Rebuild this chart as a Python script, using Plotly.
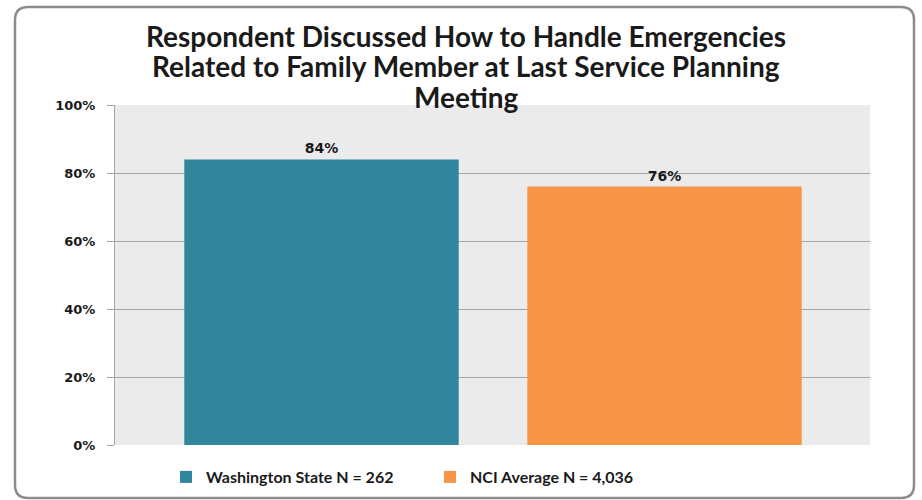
import plotly.graph_objects as go

groups = ["Washington State N = 262", "NCI Average N = 4,036"]
values = [84, 76]
colors = ["#31859C", "#F79646"]
tick_vals = [0, 20, 40, 60, 80, 100]
tick_text = ["0%", "20%", "40%", "60%", "80%", "100%"]
title_lines = [
    "Respondent Discussed How to Handle Emergencies",
    "Related to Family Member at Last Service Planning",
    "Meeting",
]

W, H = 922, 500
L, R, T, B = 115, 52, 105, 55
pw, ph = W - L - R, H - T - B


def px_x(v):
    return (v - L) / pw


def px_y(v):
    return (H - B - v) / ph


fig = go.Figure()

for i, (name, val, col) in enumerate(zip(groups, values, colors)):
    fig.add_trace(go.Bar(
        x=[i],
        y=[val],
        name=name,
        width=0.8,
        marker=dict(color=col, line=dict(width=0)),
        text=[f"{val}%"],
        textposition="outside",
        textfont=dict(family="DejaVu Sans", size=14, color="#1a1a1a", weight="bold"),
        cliponaxis=False,
    ))

# title lines as annotations so the line spacing can follow the original
for k, line in enumerate(title_lines):
    fig.add_annotation(
        text=line,
        xref="paper", yref="paper",
        x=px_x(466), y=px_y(36 + 30.5 * k),
        xanchor="center", yanchor="middle",
        showarrow=False,
        font=dict(family="Lato", size=28, color="#1a1a1a", weight="bold"),
    )

# rounded frame around the whole chart
x0, x1 = px_x(15), px_x(914)
y0, y1 = px_y(498), px_y(7)
rx, ry = 13 / pw, 13 / ph
frame = (f"M {x0 + rx},{y1} L {x1 - rx},{y1} Q {x1},{y1} {x1},{y1 - ry} "
         f"L {x1},{y0 + ry} Q {x1},{y0} {x1 - rx},{y0} "
         f"L {x0 + rx},{y0} Q {x0},{y0} {x0},{y0 + ry} "
         f"L {x0},{y1 - ry} Q {x0},{y1} {x0 + rx},{y1} Z")

fig.update_layout(
    width=W,
    height=H,
    margin=dict(l=L, r=R, t=T, b=B, autoexpand=False),
    paper_bgcolor="white",
    plot_bgcolor="#EBEBEB",
    bargap=0.2,
    showlegend=True,
    legend=dict(
        orientation="h",
        x=px_x(166),
        xanchor="left",
        y=px_y(460),
        yanchor="top",
        entrywidth=219,
        entrywidthmode="pixels",
        bgcolor="rgba(0,0,0,0)",
        font=dict(family="Lato", size=16, color="#1a1a1a", weight="bold"),
        traceorder="normal",
    ),
    shapes=[dict(type="path", xref="paper", yref="paper", path=frame,
                 line=dict(color="#8c8c8c", width=2.5), layer="below")],
)

fig.update_xaxes(
    range=[-0.602, 1.599],
    showticklabels=False,
    showgrid=False,
    zeroline=False,
    showline=False,
)

fig.update_yaxes(
    range=[0, 100],
    tickvals=tick_vals,
    ticktext=tick_text,
    tickfont=dict(family="DejaVu Sans", size=13, color="#1a1a1a", weight="bold"),
    showgrid=True,
    gridcolor="#A6A6A6",
    gridwidth=1,
    zeroline=False,
    showline=True,
    linecolor="#A6A6A6",
    ticks="outside",
    ticklen=7,
    tickcolor="#A6A6A6",
    ticklabelstandoff=9,
)

fig.write_html("out.html", config={"displayModeBar": False},
               post_script="document.body.style.margin='0';")
